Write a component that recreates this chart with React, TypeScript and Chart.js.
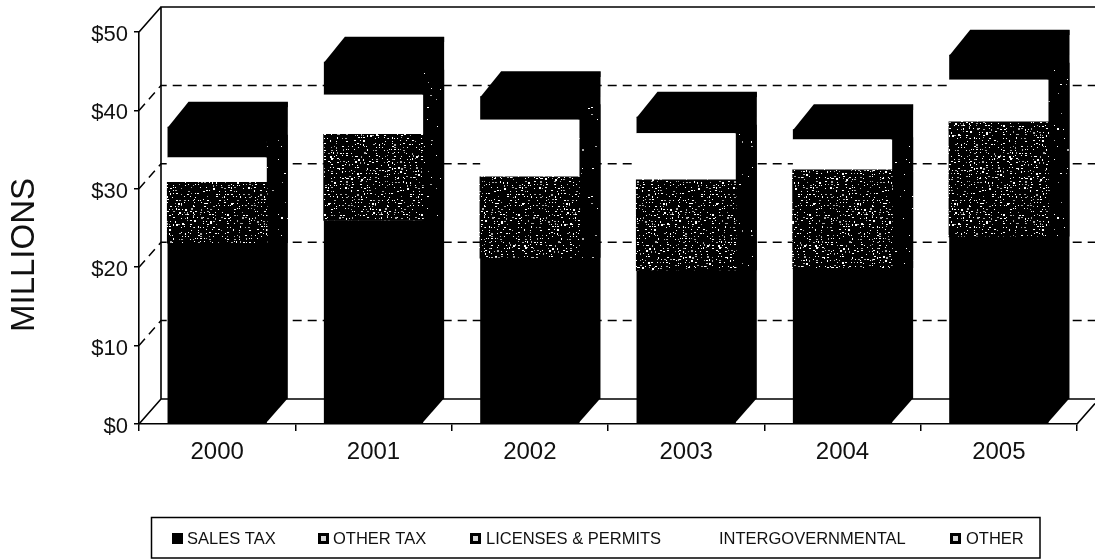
import { useEffect, useRef } from "react";
import { Chart, registerables } from "chart.js";

Chart.register(...registerables);

// Revenue in millions of dollars, by fiscal year.
const years = ["2000", "2001", "2002", "2003", "2004", "2005"];
const salesTax = [23.1, 26.0, 21.2, 19.6, 19.9, 23.9];
const otherTax = [6.7, 9.9, 9.3, 10.3, 11.3, 13.6];
const licenses = [1.0, 1.0, 1.0, 1.2, 1.2, 1.0];
const intergovernmental = [3.2, 5.1, 7.3, 6.0, 3.9, 5.4];
const other = [3.9, 4.2, 3.0, 2.1, 1.3, 3.2];
const axisTicks = [0, 10, 20, 30, 40, 50];

const seriesLabels = ["SALES TAX", "OTHER TAX", "LICENSES & PERMITS", "INTERGOVERNMENTAL", "OTHER"];
const legendTextX = [187, 333, 486, 719, 966];
const legendSwatchX = [172, 318, 470, null, 950];

const INK = "#000000";
const TEXT = "#111111";
const FONT = "'Liberation Sans', Arial, sans-serif";

// Offset of the receding faces of the box and of the columns.
const DEPTH_X = 22;
const DEPTH_Y = -25;
const COLUMN_DEPTH_X = 21;

// Repeatable speckle tile: a dark ground with light grain of the given density.
function speckleTile(density: number): CanvasPattern | string {
  const tile = document.createElement("canvas");
  tile.width = 97;
  tile.height = 89;
  const ctx = tile.getContext("2d");
  if (!ctx) return INK;
  ctx.fillStyle = INK;
  ctx.fillRect(0, 0, tile.width, tile.height);
  let state = 20050;
  const next = () => {
    state = (state * 1103515245 + 12345) % 2147483648;
    return state / 2147483648;
  };
  for (let y = 0; y < tile.height; y += 3) {
    for (let x = 0; x < tile.width; x += 3) {
      const jx = Math.floor(next() * 2);
      const jy = Math.floor(next() * 2);
      if (next() < density) {
        ctx.fillStyle = next() < 0.65 ? "#ffffff" : "#a8a8a8";
        ctx.fillRect(x + jx, y + jy, 1 + Math.floor(next() * 1.5), 1 + Math.floor(next() * 1.2));
      }
    }
  }
  return ctx.createPattern(tile, "repeat") ?? INK;
}

function polygon(ctx: CanvasRenderingContext2D, pts: number[][], fill: CanvasPattern | string) {
  ctx.beginPath();
  pts.forEach(([x, y], i) => (i ? ctx.lineTo(x, y) : ctx.moveTo(x, y)));
  ctx.closePath();
  ctx.fillStyle = fill;
  ctx.fill();
}

// Back wall, side wall and floor of the box, placed from the value scale.
const boxPlugin = {
  id: "box",
  beforeDatasetsDraw(chart: any) {
    const { ctx, chartArea: a, scales } = chart;
    const yScale = scales.y;
    const backLeft = a.left + DEPTH_X;
    const backBottom = a.bottom + DEPTH_Y;
    const backTop = a.top + DEPTH_Y;
    ctx.save();
    ctx.strokeStyle = INK;
    ctx.lineWidth = 1.6;
    ctx.beginPath();
    ctx.moveTo(a.left, a.bottom);
    ctx.lineTo(backLeft, backBottom);
    ctx.lineTo(1095, backBottom);
    ctx.moveTo(a.right, a.bottom);
    ctx.lineTo(1095, a.bottom + ((1095 - a.right) * DEPTH_Y) / DEPTH_X);
    ctx.moveTo(backLeft, backBottom);
    ctx.lineTo(backLeft, backTop);
    ctx.lineTo(1095, backTop);
    ctx.moveTo(a.left, a.top);
    ctx.lineTo(backLeft, backTop);
    ctx.stroke();

    ctx.lineWidth = 1.5;
    ctx.setLineDash([9, 6]);
    axisTicks
      .filter((v) => v > 0 && v < 50)
      .forEach((v) => {
        const y = yScale.getPixelForValue(v);
        ctx.beginPath();
        ctx.moveTo(a.left, y);
        ctx.lineTo(backLeft, y + DEPTH_Y);
        ctx.lineTo(1095, y + DEPTH_Y);
        ctx.stroke();
      });
    ctx.restore();

    // Side and top of each column, taken from its stacked bar elements.
    // Grain shows on the side only along the upper, lighter part of the stack.
    const sideGrain = speckleTile(0.05);
    const last = chart.getDatasetMeta(chart.data.datasets.length - 1).data;
    const first = chart.getDatasetMeta(0).data;
    last.forEach((bar: any, i: number) => {
      const { x, y, width } = bar.getProps(["x", "y", "width"], true);
      const left = x - width / 2;
      const right = x + width / 2;
      const base = first[i].getProps(["base"], true).base;
      const salesTop = first[i].getProps(["y"], true).y;
      polygon(
        ctx,
        [
          [right - 1, y],
          [right + COLUMN_DEPTH_X, y + DEPTH_Y],
          [right + COLUMN_DEPTH_X, base + DEPTH_Y],
          [right - 1, base],
        ],
        INK,
      );
      polygon(
        ctx,
        [
          [right, y + 8],
          [right + COLUMN_DEPTH_X, y + 8],
          [right + COLUMN_DEPTH_X, salesTop],
          [right, salesTop],
        ],
        sideGrain,
      );
      polygon(
        ctx,
        [
          [left, y + 1],
          [left + COLUMN_DEPTH_X, y + DEPTH_Y],
          [right + COLUMN_DEPTH_X, y + DEPTH_Y],
          [right + COLUMN_DEPTH_X, y + DEPTH_Y + 5],
          [right, y + 1],
        ],
        INK,
      );
    });
  },
};

// Framed legend strip under the plot and the rotated axis caption.
const annotationPlugin = {
  id: "annotations",
  afterDraw(chart: any) {
    const { ctx } = chart;
    ctx.save();
    ctx.strokeStyle = INK;
    ctx.lineWidth = 1.5;
    ctx.strokeRect(151.5, 517.5, 888.5, 40.5);
    ctx.font = `16.5px ${FONT}`;
    ctx.textBaseline = "middle";
    chart.data.datasets.forEach((ds: any, i: number) => {
      ctx.fillStyle = TEXT;
      ctx.fillText(ds.label, legendTextX[i], 539);
      const sx = legendSwatchX[i];
      if (sx !== null) {
        ctx.fillStyle = INK;
        ctx.fillRect(sx, 533, 11, 11);
        if (i > 0) {
          ctx.fillStyle = "#d8d8d8";
          ctx.fillRect(sx + 3, 536, 5, 5);
        }
      }
    });

    ctx.translate(23.5, 255);
    ctx.rotate(-Math.PI / 2);
    ctx.font = `33px ${FONT}`;
    ctx.textAlign = "center";
    ctx.textBaseline = "middle";
    ctx.fillStyle = TEXT;
    ctx.fillText("MILLIONS", 0, 1);
    ctx.restore();
  },
};

export default function App() {
  const canvasRef = useRef<HTMLCanvasElement | null>(null);

  useEffect(() => {
    const canvas = canvasRef.current;
    if (!canvas) return;
    const speckle = speckleTile(0.55);
    const chart = new Chart(canvas, {
      type: "bar",
      data: {
        labels: years,
        datasets: [
          { label: seriesLabels[0], data: salesTax, backgroundColor: INK },
          { label: seriesLabels[1], data: otherTax, backgroundColor: speckle, inflateAmount: 0.6 },
          { label: seriesLabels[2], data: licenses, backgroundColor: speckle, inflateAmount: 0.6 },
          { label: seriesLabels[3], data: intergovernmental, backgroundColor: "#ffffff" },
          { label: seriesLabels[4], data: other, backgroundColor: INK },
        ],
      },
      options: {
        responsive: false,
        animation: false,
        events: [],
        layout: { padding: { top: 32, right: 18, left: 0, bottom: 0 } },
        datasets: { bar: { barPercentage: 0.635, categoryPercentage: 1, borderWidth: 0 } },
        plugins: { legend: { display: false }, tooltip: { enabled: false } },
        scales: {
          x: {
            stacked: true,
            afterFit(scale: any) {
              scale.height = 136;
            },
            border: { color: INK, width: 1.6 },
            grid: { drawOnChartArea: false, drawTicks: true, tickLength: 7, color: INK, lineWidth: 1.5 },
            ticks: { color: TEXT, padding: 7, maxRotation: 0, font: { family: FONT, size: 24 } },
          },
          y: {
            stacked: true,
            min: 0,
            max: 50,
            afterFit(scale: any) {
              scale.width = 139;
            },
            afterBuildTicks(scale: any) {
              scale.ticks = axisTicks.map((value) => ({ value }));
            },
            border: { color: INK, width: 1.6 },
            grid: { drawOnChartArea: false, drawTicks: true, tickLength: 5, color: INK, lineWidth: 1.5 },
            ticks: {
              color: TEXT,
              padding: 6,
              labelOffset: 3,
              font: { family: FONT, size: 22 },
              callback: (value: any) => `$${value}`,
            },
          },
        },
      } as any,
      plugins: [boxPlugin, annotationPlugin],
    });
    return () => chart.destroy();
  }, []);

  return (
    <div style={{ position: "fixed", left: 0, top: 0, width: 1095, height: 560, background: "#ffffff" }}>
      <canvas ref={canvasRef} width={1095} height={560} style={{ display: "block" }} />
    </div>
  );
}
